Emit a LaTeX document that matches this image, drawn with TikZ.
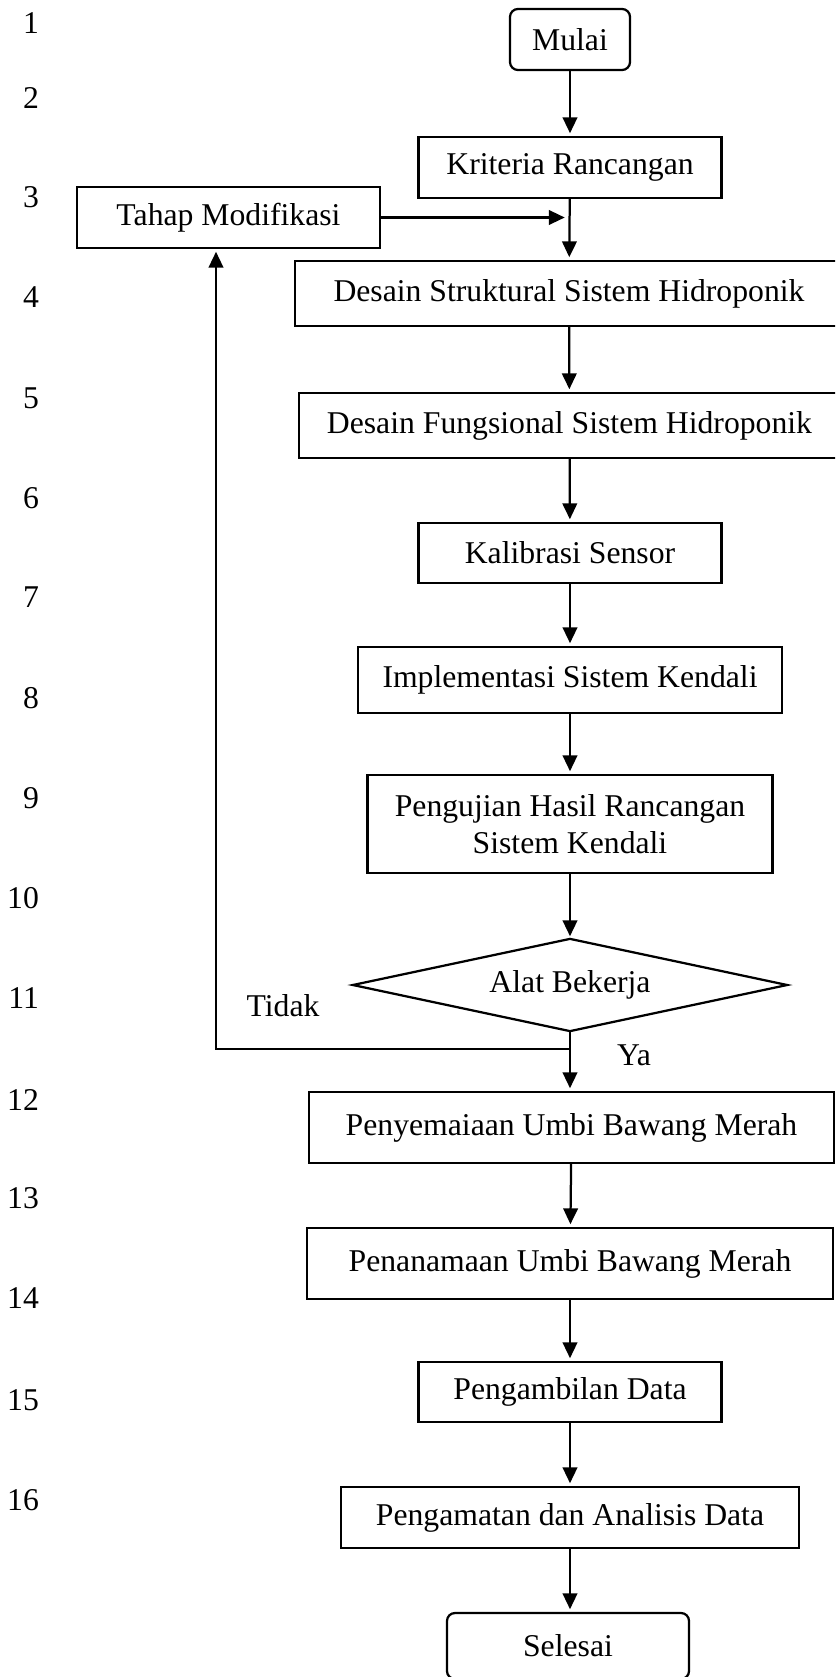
\documentclass[tikz,border=0pt]{standalone}
\usepackage{fontspec}
\setmainfont{Liberation Serif}
\usetikzlibrary{arrows.meta}
\newcommand{\pxu}{0.3786pt}
\tikzset{
  box/.style 2 args={draw, rectangle, inner sep=2pt, minimum width=#1*\pxu, minimum height=#2*\pxu},
  term/.style 2 args={box={#1}{#2}, rounded corners=3pt},
  dec/.style 2 args={rectangle, inner sep=0pt, minimum width=#1*\pxu, minimum height=#2*\pxu},
  arr/.style={-{Triangle[length=6pt,width=5.5pt]}, shorten >=1pt},
}
\begin{document}
\begin{tikzpicture}[x=\pxu, y=-\pxu, line width=0.85pt, font=\fontsize{12}{13.8}\selectfont]
  \clip (0,0) rectangle (835,1677);

  % line numbers
  \foreach \n/\y in {1/23,2/98,3/197,4/297,5/398,6/498,7/597,8/698,9/798,10/898,11/998,12/1100,13/1198,14/1298,15/1400,16/1500}
    \node[anchor=east, inner sep=0pt] (ln\n) at (40,\y) {\n};

  % steps
  \node[term={120}{61}] (mulai) at (570,39.5) {Mulai};
  \node[box={303}{61}] (kriteria) at (570,167.5) {Kriteria Rancangan};
  \node[box={303}{61}] (tahap) at (228.5,217.5) {Tahap Modifikasi};
  \node[box={548}{65}] (struktural) at (569,293.5) {Desain Struktural Sistem Hidroponik};
  \node[box={541}{65}] (fungsional) at (569.5,425.5) {Desain Fungsional Sistem Hidroponik};
  \node[box={303}{60}] (kalibrasi) at (570,553) {Kalibrasi Sensor};
  \node[box={424}{66}] (implementasi) at (570,680) {Implementasi Sistem Kendali};
  \node[box={405}{98}, align=center] (pengujian) at (570,824) {Pengujian Hasil Rancangan\\Sistem Kendali};
  \node[dec={432}{90}] (alat) at (570,985) {Alat Bekerja};
  \draw (alat.north) -- (alat.east) -- (alat.south) -- (alat.west) -- cycle;
  \node[box={525}{71}] (semai) at (571.5,1127.5) {Penyemaiaan Umbi Bawang Merah};
  \node[box={526}{71}] (tanam) at (570,1263.5) {Penanamaan Umbi Bawang Merah};
  \node[box={303}{60}] (ambil) at (570,1392) {Pengambilan Data};
  \node[box={458}{61}] (amati) at (570,1517.5) {Pengamatan dan Analisis Data};
  \node[term={242}{66}] (selesai) at (568,1646) {Selesai};

  % labels
  \node (tidak) at (283,1006) {Tidak};
  \node (ya) at (634,1055) {Ya};

  % main flow
  \draw[arr] (mulai) -- (kriteria);
  \draw[arr] (kriteria) -- (struktural);
  \draw[arr] (struktural) -- (fungsional);
  \draw[arr] (fungsional) -- (kalibrasi);
  \draw[arr] (kalibrasi) -- (implementasi);
  \draw[arr] (implementasi) -- (pengujian);
  \draw[arr] (pengujian) -- (alat.north);
  \draw[arr] (alat.south) -- (alat.south |- semai.north);
  \draw[arr] (semai) -- (tanam);
  \draw[arr] (tanam) -- (ambil);
  \draw[arr] (ambil) -- (amati);
  \draw[arr] (amati.south) -- (amati.south |- selesai.north);

  % loop back
  \coordinate (jm) at (kriteria.south |- tahap.east);
  \coordinate (jt) at (570,1049);
  \coordinate (jl) at (216,1049);
  \draw[arr, shorten >=2pt] (tahap.east) -- (jm);
  \draw[arr] (jt) -- (jl) -- (jl |- tahap.south);
\end{tikzpicture}
\end{document}
